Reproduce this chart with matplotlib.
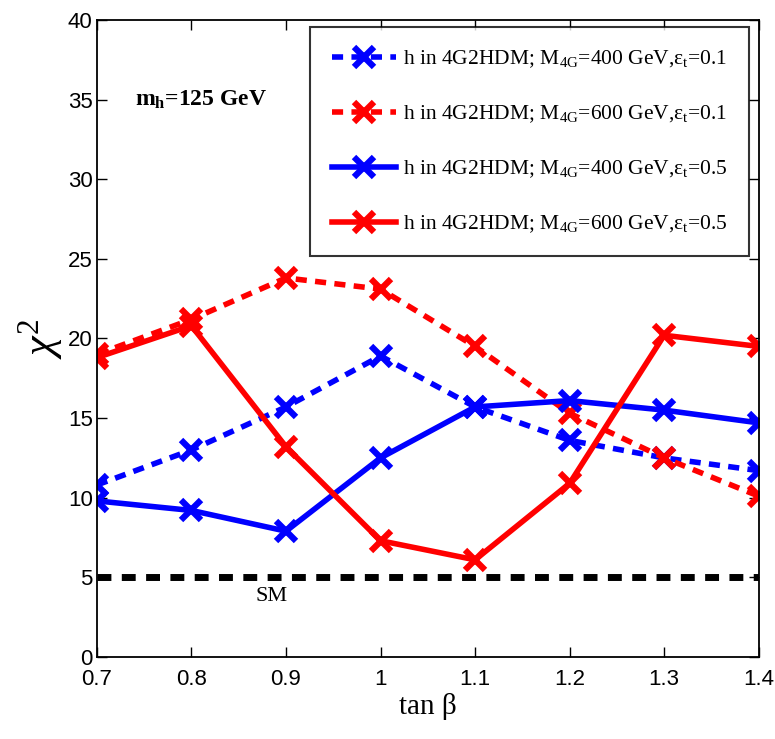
import matplotlib
matplotlib.use("Agg")
import matplotlib.pyplot as plt

# ─── DATA ──────────────────────────────────────────────────────────────────────
tan_beta = [0.7, 0.8, 0.9, 1.0, 1.1, 1.2, 1.3, 1.4]
chi2_400_01 = [10.8, 13.0, 15.7, 18.9, 15.7, 13.6, 12.5, 11.7]
chi2_600_01 = [19.0, 21.2, 23.8, 23.1, 19.5, 15.3, 12.5, 10.1]
chi2_400_05 = [9.8, 9.2, 7.9, 12.5, 15.7, 16.1, 15.5, 14.7]
chi2_600_05 = [18.8, 20.8, 13.2, 7.3, 6.1, 10.9, 20.2, 19.5]
chi2_sm = 5.0
labels = [
    r"h in 4G2HDM; M$_\mathregular{4G}$=400 GeV,ε$_\mathregular{t}$=0.1",
    r"h in 4G2HDM; M$_\mathregular{4G}$=600 GeV,ε$_\mathregular{t}$=0.1",
    r"h in 4G2HDM; M$_\mathregular{4G}$=400 GeV,ε$_\mathregular{t}$=0.5",
    r"h in 4G2HDM; M$_\mathregular{4G}$=600 GeV,ε$_\mathregular{t}$=0.5",
]
# ────────────────────────────────────────────────────────────────────────────────

plt.rcParams["mathtext.fontset"] = "custom"
plt.rcParams["mathtext.rm"] = "Liberation Serif"
plt.rcParams["mathtext.it"] = "Liberation Serif:italic"

SERIF = "Liberation Serif"
SANS = "Liberation Sans"

fig = plt.figure(figsize=(7.75, 7.39), dpi=100)
ax = fig.add_axes([0.125, 0.111, 0.854, 0.862])

styles = [
    (chi2_400_01, "blue", "--"),
    (chi2_600_01, "red", "--"),
    (chi2_400_05, "blue", "-"),
    (chi2_600_05, "red", "-"),
]
for (vals, col, ls), lab in zip(styles, labels):
    ax.plot(tan_beta, vals, color=col, linestyle=ls, linewidth=4,
            dashes=(2.0, 1.5) if ls == "--" else (None, None),
            marker="x", markersize=15, markeredgewidth=4.5, label=lab)

ax.axhline(chi2_sm, color="black", linestyle="--", linewidth=5, dashes=(2.0, 1.5))
ax.text(0.885, 3.8, "SM", fontsize=16, family=SERIF, ha="center", va="center")
ax.text(0.74, 35, r"m$_\mathregular{h}$=125 GeV", fontsize=17, family=SERIF,
        fontweight="bold", ha="left", va="center")

ax.set_xlim(0.7, 1.4)
ax.set_ylim(0, 40)
ax.set_xticks(tan_beta)
ax.set_xticklabels(["0.7", "0.8", "0.9", "1", "1.1", "1.2", "1.3", "1.4"])
ax.set_yticks(range(0, 45, 5))
for lbl in ax.get_xticklabels() + ax.get_yticklabels():
    lbl.set_family(SANS)
    lbl.set_fontsize(16)
ax.tick_params(direction="in", length=7, width=1, top=True, right=True)
ax.tick_params(axis="x", pad=9)
ax.tick_params(axis="y", pad=3)
for s in ax.spines.values():
    s.set_linewidth(1.3)

ax.set_xlabel("tan β", fontsize=21, family=SERIF, labelpad=2)
ax.set_ylabel(r"$\chi^2$", fontsize=32, family=SERIF, labelpad=2)

leg = ax.legend(loc="upper right", bbox_to_anchor=(0.985, 0.989), borderaxespad=0,
                prop={"family": SERIF, "size": 15.5},
                frameon=True, fancybox=False, edgecolor="black", handlelength=3.0,
                handletextpad=0.3, borderpad=1.0, labelspacing=1.55)
leg.get_frame().set_linewidth(1.5)

fig.savefig("out.png", dpi=100)
